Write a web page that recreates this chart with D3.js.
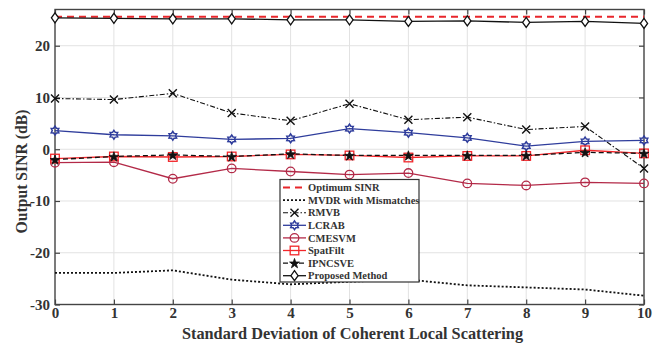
<!DOCTYPE html>
<html lang="en">
<head>
<meta charset="UTF-8">
<title>Output SINR vs scattering</title>
<style>
  body { margin: 0; background: #fff; }
  svg text { font-family: "Liberation Serif", "Times New Roman", serif; font-weight: bold; fill: #333; }
  .grid line { stroke: #e2e2e2; stroke-width: 1; }
</style>
</head>
<body>
<svg width="657" height="344"></svg>
<script src="https://d3js.org/d3.v7.min.js"></script>
<script>
// data
const xs = [0, 1, 2, 3, 4, 5, 6, 7, 8, 9, 10];
const optimum = [25.6, 25.6, 25.6, 25.6, 25.6, 25.6, 25.6, 25.6, 25.6, 25.6, 25.6];
const mvdr = [-23.9, -23.9, -23.4, -25.2, -26.1, -25.6, -25.2, -26.3, -26.7, -27.1, -28.3];
const rmvb = [9.8, 9.6, 10.8, 7.0, 5.5, 8.8, 5.7, 6.2, 3.8, 4.4, -3.7];
const lcrab = [3.6, 2.8, 2.6, 1.9, 2.1, 4.0, 3.2, 2.2, 0.6, 1.5, 1.7];
const cmesvm = [-2.6, -2.5, -5.7, -3.7, -4.3, -4.9, -4.6, -6.6, -7.0, -6.4, -6.6];
const spatfilt = [-1.8, -1.4, -1.5, -1.4, -1.0, -1.2, -1.6, -1.3, -1.3, -0.2, -0.8];
const ipncsve = [-2.0, -1.4, -1.1, -1.4, -0.9, -1.2, -1.2, -1.2, -1.2, -0.6, -0.8];
const proposed = [25.4, 25.3, 25.2, 25.2, 25.0, 25.0, 24.7, 24.8, 24.5, 24.7, 24.3];
const yTicks = [-30, -20, -10, 0, 10, 20];

const series = [
  { name: "Optimum SINR", values: optimum, color: "#e8262b", dash: "7,5", marker: null, width: 1.8 },
  { name: "MVDR with Mismatches", values: mvdr, color: "#111", dash: "2,2", marker: null, width: 1.8 },
  { name: "RMVB", values: rmvb, color: "#111", dash: "5,2,1.5,2", marker: "x", width: 1.1 },
  { name: "LCRAB", values: lcrab, color: "#2f3d9c", dash: null, marker: "hex", width: 1.3 },
  { name: "CMESVM", values: cmesvm, color: "#b32a48", dash: null, marker: "circle", width: 1.3 },
  { name: "SpatFilt", values: spatfilt, color: "#f2262a", dash: null, marker: "square", width: 1.3 },
  { name: "IPNCSVE", values: ipncsve, color: "#111", dash: "5,3", marker: "star", width: 1.3 },
  { name: "Proposed Method", values: proposed, color: "#111", dash: null, marker: "diamond", width: 1.3 }
];

const svg = d3.select("svg");
const pLeft = 55, pRight = 644, pTop = 9.5, pBottom = 304.5;

const x = d3.scaleLinear().domain([0, 10]).range([pLeft, pRight]);
const y = d3.scaleLinear().domain([-30, 27]).range([pBottom, pTop]);

// grid
const grid = svg.append("g").attr("class", "grid");
grid.selectAll(".gx").data(xs.slice(1, -1)).enter().append("line")
  .attr("x1", d => x(d)).attr("x2", d => x(d)).attr("y1", pTop).attr("y2", pBottom);
grid.selectAll(".gy").data(yTicks.slice(1)).enter().append("line")
  .attr("x1", pLeft).attr("x2", pRight).attr("y1", d => y(d)).attr("y2", d => y(d));

// axes with inward ticks
const tk = 5;
const fmt = d => String(d);
svg.append("g").attr("transform", `translate(0,${pBottom})`)
  .call(d3.axisBottom(x).tickValues(xs).tickFormat(fmt).tickSizeInner(-tk).tickSizeOuter(0).tickPadding(3))
  .call(g => g.selectAll("text").attr("font-size", 15));
svg.append("g").attr("transform", `translate(0,${pTop})`)
  .call(d3.axisTop(x).tickValues(xs).tickSizeInner(-tk).tickSizeOuter(0).tickFormat(""));
svg.append("g").attr("transform", `translate(${pLeft},0)`)
  .call(d3.axisLeft(y).tickValues(yTicks).tickFormat(fmt).tickSizeInner(-tk).tickSizeOuter(0).tickPadding(5))
  .call(g => g.selectAll("text").attr("font-size", 15));
svg.append("g").attr("transform", `translate(${pRight},0)`)
  .call(d3.axisRight(y).tickValues(yTicks).tickSizeInner(-tk).tickSizeOuter(0).tickFormat(""));
svg.selectAll(".domain").remove();
svg.selectAll(".tick line").attr("stroke", "#444").attr("stroke-width", 1.2);
svg.append("rect").attr("x", pLeft).attr("y", pTop).attr("width", pRight - pLeft).attr("height", pBottom - pTop)
  .attr("fill", "none").attr("stroke", "#444").attr("stroke-width", 1.4);

// marker drawing
function drawMarker(g, type, cx, cy, color) {
  const s = 4;
  if (type === "x") {
    g.append("path").attr("d", `M${cx - s},${cy - s}L${cx + s},${cy + s}M${cx - s},${cy + s}L${cx + s},${cy - s}`)
      .attr("stroke", color).attr("stroke-width", 1.4).attr("fill", "none");
  } else if (type === "circle") {
    g.append("circle").attr("cx", cx).attr("cy", cy).attr("r", 4.3)
      .attr("stroke", color).attr("stroke-width", 1.3).attr("fill", "none");
  } else if (type === "square") {
    g.append("rect").attr("x", cx - 4.3).attr("y", cy - 4.3).attr("width", 8.6).attr("height", 8.6)
      .attr("stroke", color).attr("stroke-width", 1.3).attr("fill", "none");
  } else if (type === "diamond") {
    g.append("path").attr("d", `M${cx},${cy - 5}L${cx + 3.6},${cy}L${cx},${cy + 5}L${cx - 3.6},${cy}Z`)
      .attr("stroke", color).attr("stroke-width", 1.3).attr("fill", "#fff");
  } else if (type === "star") {
    g.append("path").attr("d", d3.symbol(d3.symbolStar, 30)()).attr("transform", `translate(${cx},${cy + 0.5})`)
      .attr("fill", color).attr("stroke", color).attr("stroke-width", 0.8);
  } else if (type === "hex") {
    const r = 4.4, pts = [];
    for (let i = 0; i < 12; i++) {
      const a = -Math.PI / 2 + i * Math.PI / 6;
      const rr = i % 2 === 0 ? r : r * 0.62;
      pts.push([cx + rr * Math.cos(a), cy + rr * Math.sin(a)]);
    }
    g.append("path").attr("d", "M" + pts.join("L") + "Z")
      .attr("stroke", color).attr("stroke-width", 1.5).attr("fill", "none");
  }
}

const line = d3.line().x((d, i) => x(xs[i])).y(d => y(d));
const plot = svg.append("g");
series.forEach(s => {
  plot.append("path").datum(s.values).attr("d", line)
    .attr("fill", "none").attr("stroke", s.color).attr("stroke-width", s.width)
    .attr("stroke-dasharray", s.dash);
});
series.forEach(s => {
  if (!s.marker) return;
  const g = plot.append("g");
  s.values.forEach((v, i) => drawMarker(g, s.marker, x(xs[i]), y(v), s.color));
});

// legend
const lg = svg.append("g");
const lx = 280, ly = 179.5, lw = 139, lh = 102.5, rowH = 12.6;
lg.append("rect").attr("x", lx).attr("y", ly).attr("width", lw).attr("height", lh)
  .attr("fill", "#fff").attr("stroke", "#333").attr("stroke-width", 1.2);
series.forEach((s, i) => {
  const yy = ly + 8 + i * rowH;
  lg.append("line").attr("x1", lx + 3).attr("x2", lx + 26).attr("y1", yy).attr("y2", yy)
    .attr("stroke", s.color).attr("stroke-width", s.width).attr("stroke-dasharray", s.dash);
  if (s.marker) drawMarker(lg, s.marker, lx + 14.5, yy, s.color);
  lg.append("text").attr("x", lx + 28).attr("y", yy).attr("dy", "0.35em")
    .attr("font-size", 10.5).text(s.name);
});

// axis titles
svg.append("text").attr("x", 352.5).attr("y", 339).attr("text-anchor", "middle")
  .attr("font-size", 16.3).text("Standard Deviation of Coherent Local Scattering");
svg.append("text").attr("transform", "translate(27,171.5) rotate(-90)")
  .attr("text-anchor", "middle").attr("font-size", 15.7).text("Output SINR (dB)");
</script>
</body>
</html>
